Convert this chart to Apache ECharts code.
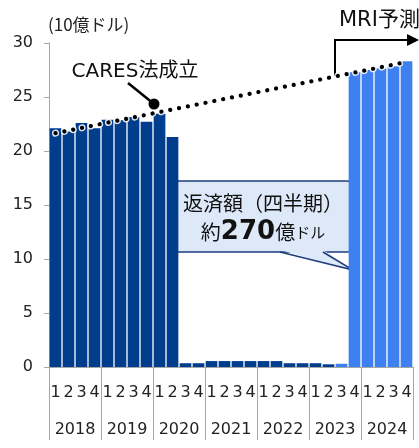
<!DOCTYPE html>
<html><head><meta charset="utf-8">
<script src="https://cdn.jsdelivr.net/npm/echarts@6/dist/echarts.min.js"></script>
<style>html,body{margin:0;padding:0;background:#fff}#c{width:419px;height:448px}</style>
</head><body><div id="c"></div>
<script>
const quarters = ['1','2','3','4','1','2','3','4','1','2','3','4','1','2','3','4','1','2','3','4','1','2','3','4','1','2','3','4'];
const years = ['2018','2019','2020','2021','2022','2023','2024'];
const repayments = [22.1, 21.8, 22.6, 22.1, 22.9, 22.85, 23.15, 22.7, 23.45, 21.3,
  0.35, 0.35, 0.55, 0.55, 0.55, 0.55, 0.55, 0.55, 0.35, 0.35, 0.35, 0.25,
  0.3, 27.3, 27.5, 27.65, 27.85, 28.3];
const forecastFrom = 22;
const trendStart = [0, 21.65];
const trendEnd = [27, 28.24];
const yTicks = { min: 0, max: 30, interval: 5 };

const FONT = '"DejaVu Sans","Noto Sans CJK JP",sans-serif';
const JFONT = '"Noto Sans CJK JP","DejaVu Sans",sans-serif';
const DARK = '#003d8c', LIGHT = '#3f80f0', AXIS = '#a6a6a6', TXT = '#222';

const chart = echarts.init(document.getElementById('c'), null, {renderer: 'canvas'});
chart.setOption({
  animation: false,
  grid: { left: 49, right: 6, top: 43, bottom: 81 },
  xAxis: [{
    type: 'category', data: quarters, position: 'bottom',
    axisLine: { lineStyle: { color: AXIS, width: 1 } },
    axisTick: { show: false },
    axisLabel: { interval: 0, fontSize: 16, margin: 18, color: TXT, fontFamily: FONT }
  }, {
    type: 'category', data: years, position: 'bottom',
    axisLine: { show: false },
    axisTick: { show: true, interval: 0, length: 73, lineStyle: { color: AXIS, width: 1 } },
    axisLabel: { interval: 0, fontSize: 16, margin: 55, color: TXT, fontFamily: FONT }
  }],
  yAxis: {
    type: 'value', min: yTicks.min, max: yTicks.max, interval: yTicks.interval,
    axisLine: { show: true, lineStyle: { color: AXIS } },
    axisTick: { show: true, length: 5, lineStyle: { color: AXIS } },
    splitLine: { show: false },
    axisLabel: { fontSize: 16, margin: 16, color: TXT, fontFamily: FONT }
  },
  series: [{
    type: 'bar', xAxisIndex: 0, data: repayments,
    barCategoryGap: '10%',
    itemStyle: { color: p => p.dataIndex >= forecastFrom ? LIGHT : DARK },
    emphasis: { disabled: true },
    markLine: {
      silent: true, symbol: ['none', 'none'], label: { show: false },
      emphasis: { disabled: true },
      data: [
        [{ coord: trendStart, lineStyle: { color: '#ffffff', width: 7, type: [0.1, 8.9], cap: 'round', opacity: 0.85 } }, { coord: trendEnd }],
        [{ coord: trendStart, lineStyle: { color: '#000000', width: 4.2, type: [0.1, 8.9], cap: 'round' } }, { coord: trendEnd }]
      ]
    }
  }],
  graphic: [
    { type: 'text', left: 48, top: 16, style: { text: '(10億ドル)', fontSize: 17, fontFamily: JFONT, fill: TXT } },
    { type: 'text', x: 135, y: 72, style: { text: 'CARES法成立', fontSize: 20, fontFamily: FONT, fill: '#111', align: 'center', verticalAlign: 'middle', textAlign: 'center', textVerticalAlign: 'middle' } },
    { type: 'line', shape: { x1: 128, y1: 83, x2: 154, y2: 104 }, style: { stroke: '#000', lineWidth: 2.5 } },
    { type: 'circle', shape: { cx: 154, cy: 104, r: 5.5 }, style: { fill: '#000' } },
    { type: 'text', x: 339, y: 21, style: { text: 'MRI予測', fontSize: 21, fontFamily: FONT, fill: '#111', align: 'left', verticalAlign: 'middle', textAlign: 'left', textVerticalAlign: 'middle' } },
    { type: 'polyline', shape: { points: [[335, 76], [335, 40], [410, 40]] }, style: { stroke: '#000', lineWidth: 2, fill: null } },
    { type: 'polygon', shape: { points: [[407, 34], [419, 40], [407, 46]] }, style: { fill: '#000' } },
    { type: 'rect', shape: { x: 169, y: 181, width: 188, height: 71, r: 10 }, style: { fill: '#dde8f8', stroke: '#1c3c7c', lineWidth: 1.5 } },
    { type: 'polygon', shape: { points: [[280, 250], [323, 250], [353, 270]] }, style: { fill: '#dde8f8' } },
    { type: 'polyline', shape: { points: [[280, 252], [353, 270], [323, 252]] }, style: { stroke: '#1c3c7c', lineWidth: 1.5, fill: null } },
    { type: 'text', x: 263, y: 203, style: { text: '返済額（四半期）', fontSize: 20, fontFamily: JFONT, fill: '#111', align: 'center', verticalAlign: 'middle', textAlign: 'center', textVerticalAlign: 'middle' } },
    { type: 'text', x: 263, y: 232, style: {
      text: '{a|約}{b|270}{a|億}{c|ドル}', align: 'center', verticalAlign: 'middle', textAlign: 'center', textVerticalAlign: 'middle',
      rich: {
        a: { fontSize: 20, fontFamily: JFONT, fill: '#111', color: '#111' },
        b: { fontSize: 26, fontWeight: 'bold', fontFamily: FONT, fill: '#111', color: '#111' },
        c: { fontSize: 15, fontFamily: JFONT, fill: '#111', color: '#111' }
      } } }
  ]
});
</script></body></html>
